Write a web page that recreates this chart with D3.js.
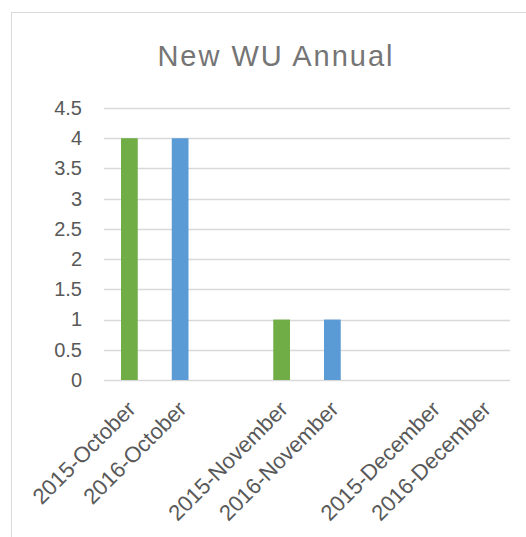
<!DOCTYPE html>
<html><head><meta charset="utf-8">
<script src="https://cdn.jsdelivr.net/npm/d3@7"></script>
<style>body{margin:0;background:#fff}svg{display:block}</style>
</head><body>
<script>
const categories = ["2015-October","2016-October","","2015-November","2016-November","","2015-December","2016-December"];
const years = ["2015","2016","","2015","2016","","2015","2016"];
const values = [4, 4, null, 1, 1, null, 0, 0];
const yTicks = [0,0.5,1,1.5,2,2.5,3,3.5,4,4.5];
const yTickLabels = ["0","0.5","1","1.5","2","2.5","3","3.5","4","4.5"];
const colors = {"2015":"#70AD47","2016":"#5B9BD5"};

const W=526,H=537;
const svg=d3.select("body").append("svg").attr("width",W).attr("height",H);
svg.append("rect").attr("x",11.5).attr("y",12.5).attr("width",700).attr("height",700)
  .attr("fill","#fff").attr("stroke","#d9d9d9").attr("stroke-width",1);

const x=d3.scaleBand().domain(d3.range(categories.length)).range([104,510]).paddingInner(0).paddingOuter(0);
const y=d3.scaleLinear().domain([0,4.5]).range([380,108]);

svg.append("text").attr("x",276).attr("y",66).attr("text-anchor","middle")
  .attr("font-family","Liberation Sans, Arial, sans-serif").attr("font-size",29)
  .attr("letter-spacing",2).attr("fill","#757575").text("New WU Annual");

const g=svg.append("g");
g.selectAll("line.grid").data(yTicks).join("line").attr("class","grid")
  .attr("x1",104).attr("x2",510).attr("y1",d=>Math.round(y(d))+0.5).attr("y2",d=>Math.round(y(d))+0.5)
  .attr("stroke","#d9d9d9").attr("stroke-width",1.3);

const yAxis=d3.axisLeft(y).tickValues(yTicks).tickFormat((d,i)=>yTickLabels[i]).tickSize(0).tickPadding(0);
const ya=svg.append("g").attr("transform","translate(82,0)").call(yAxis);
ya.select(".domain").remove();
ya.selectAll("text").attr("font-family","Liberation Sans, Arial, sans-serif").attr("font-size",20).attr("fill","#595959");

const bw=x.bandwidth()*0.33;
svg.selectAll("rect.bar").data(values.map((v,i)=>({v,i})).filter(d=>d.v!==null && d.v>0)).join("rect").attr("class","bar")
  .attr("x",d=>x(d.i)+x.bandwidth()/2-bw/2).attr("width",bw)
  .attr("y",d=>y(d.v)).attr("height",d=>y(0)-y(d.v))
  .attr("fill",d=>colors[years[d.i]]);

const xAxis=d3.axisBottom(x).tickFormat(i=>categories[i]).tickSize(0).tickPadding(0);
const xa=svg.append("g").attr("transform","translate(0,380)").call(xAxis);
xa.select(".domain").remove();
xa.selectAll("text").attr("font-family","Liberation Sans, Arial, sans-serif").attr("font-size",22).attr("fill","#595959")
  .attr("text-anchor","end").attr("dy",null).attr("y",null)
  .attr("transform","translate(2,25) rotate(-45)").attr("dy","0.35em");
</script>
</body></html>
